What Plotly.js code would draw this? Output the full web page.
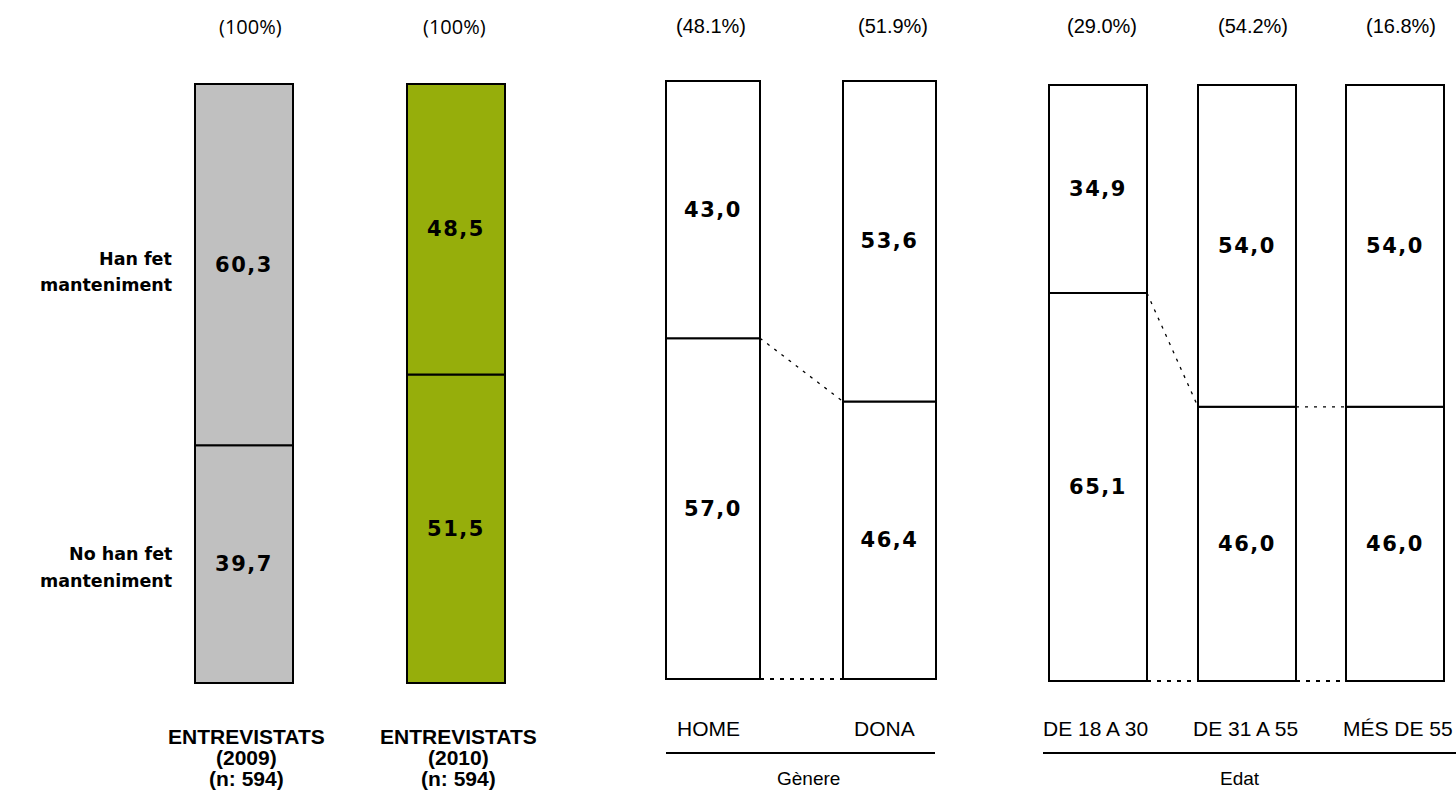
<!DOCTYPE html>
<html>
<head>
<meta charset="utf-8">
<script src="https://cdn.plot.ly/plotly-3.0.1.min.js"></script>
<style>
html,body{margin:0;padding:0;background:#fff;}
#chart{width:1456px;height:798px;}
#chart text.bartext{letter-spacing:1.5px;}
</style>
</head>
<body>
<div id="chart"></div>
<script>
// ---- data ----
const categories = ['ENTREVISTATS<br>(2009)<br>(n: 594)', 'ENTREVISTATS<br>(2010)<br>(n: 594)', 'HOME', 'DONA', 'DE 18 A 30', 'DE 31 A 55', 'MÉS DE 55'];
const shares = ['(100%)', '(100%)', '(48.1%)', '(51.9%)', '(29.0%)', '(54.2%)', '(16.8%)'];
const hanFet = [60.3, 48.5, 43.0, 53.6, 34.9, 54.0, 54.0];
const noHanFet = [39.7, 51.5, 57.0, 46.4, 65.1, 46.0, 46.0];
const seriesNames = ['Han fet<br>manteniment', 'No han fet<br>manteniment'];
const groupNames = ['Gènere', 'Edat'];
const groupMembers = [[2, 3], [4, 5, 6]];

// ---- layout constants ----
const W = 1456, H = 798;
const centers = [244, 456, 713, 889.5, 1098, 1247, 1395];
const widths = [98, 98, 94, 93, 98, 98, 98];
const shareX = [250, 454, 711, 893, 1102, 1253, 1401];
const catX = [246, 458, 708, 884, 1095, 1245, 1398];
const axisOf = ['y', 'y', 'y2', 'y2', 'y3', 'y3', 'y3'];
const fills = ['#C0C0C0', '#96AE0B', '#FFFFFF', '#FFFFFF', '#FFFFFF', '#FFFFFF', '#FFFFFF'];
const axisPx = {y: [84, 683], y2: [81, 679], y3: [85, 681]};
const PAD = 0.6;
function domainFor(px) {
  const u = (px[1] - px[0]) / 100;
  return [(H - (px[1] + PAD * u)) / H, (H - (px[0] - PAD * u)) / H];
}
const py = p => (H - p) / H;

const traces = [];
['y', 'y2', 'y3'].forEach(ax => {
  const idx = categories.map((c, i) => i).filter(i => axisOf[i] === ax);
  const common = {
    type: 'bar', xaxis: 'x', yaxis: ax,
    x: idx.map(i => centers[i]), width: idx.map(i => widths[i]),
    textposition: 'inside', insidetextanchor: 'middle', textangle: 0,
    texttemplate: '%{y:.1f}', constraintext: 'none',
    textfont: {family: 'DejaVu Sans', size: 21, weight: 'bold', color: '#000'},
    hoverinfo: 'skip', showlegend: false,
    marker: {color: idx.map(i => fills[i]), line: {color: '#000', width: 2}}
  };
  traces.push(Object.assign({}, common, {name: seriesNames[1], y: idx.map(i => noHanFet[i]), base: idx.map(() => 0)}));
  traces.push(Object.assign({}, common, {name: seriesNames[0], y: idx.map(i => hanFet[i]), base: idx.map(i => noHanFet[i])}));
});

// connector lines between bars inside each group
groupMembers.forEach(g => {
  for (let k = 0; k < g.length - 1; k++) {
    const a = g[k], b = g[k + 1];
    const xr = centers[a] + widths[a] / 2, xl = centers[b] - widths[b] / 2;
    traces.push({type: 'scatter', mode: 'lines', xaxis: 'x', yaxis: axisOf[a],
      x: [xr, xl], y: [noHanFet[a], noHanFet[b]], hoverinfo: 'skip', showlegend: false,
      line: {color: '#000', width: 1.3, dash: '3px,6px'}});
    traces.push({type: 'scatter', mode: 'lines', xaxis: 'x', yaxis: axisOf[a],
      x: [xr, xl], y: [0, 0], hoverinfo: 'skip', showlegend: false,
      line: {color: '#000', width: 2, dash: '4px,6px'}});
  }
});

const annotations = [];
// share labels on top
shares.forEach((s, i) => {
  annotations.push({xref: 'x', yref: 'paper', x: shareX[i], y: py(26), text: s, showarrow: false,
    xanchor: 'center', yanchor: 'middle',
    font: {family: i < 2 ? 'Open Sans' : 'Liberation Sans', size: i < 2 ? 20 : 20, color: '#000'}});
});
// category labels
categories.forEach((c, i) => {
  const lines = c.split('<br>');
  if (lines.length > 1) {
    const ys = [736, 757, 778];
    lines.forEach((ln, j) => annotations.push({xref: 'x', yref: 'paper', x: catX[i], y: py(ys[j]), text: '<b>' + ln + '</b>',
      showarrow: false, xanchor: 'center', yanchor: 'middle',
      font: {family: 'Liberation Sans', size: 21, color: '#000'}}));
  } else {
    annotations.push({xref: 'x', yref: 'paper', x: catX[i], y: py(728), text: c, showarrow: false,
      xanchor: 'center', yanchor: 'middle', font: {family: 'Liberation Sans', size: 21, color: '#000'}});
  }
});
// series labels at the left
const seriesY = [[259, 285], [554, 581]];
seriesNames.forEach((s, k) => {
  s.split('<br>').forEach((ln, j) => annotations.push({xref: 'paper', yref: 'paper', x: 174 / W, y: py(seriesY[k][j]), text: ln,
    showarrow: false, xanchor: 'right', yanchor: 'middle',
    font: {family: 'DejaVu Sans', size: 17.5, weight: 'bold', color: '#000'}}));
});
// group names + underline
const groupSpan = [[666, 935], [1043, 1456]];
const groupMid = [808, 1240];
const shapes = [];
groupNames.forEach((g, k) => {
  const sp = groupSpan[k];
  shapes.push({type: 'line', xref: 'x', yref: 'paper', x0: sp[0], x1: sp[1], y0: py(753), y1: py(753), line: {color: '#000', width: 2}});
  annotations.push({xref: 'x', yref: 'paper', x: groupMid[k], y: py(778), text: g, showarrow: false,
    xanchor: 'center', yanchor: 'middle', font: {family: 'Liberation Sans', size: 19, color: '#000'}});
});

const yBase = {range: [-PAD, 100 + PAD], visible: false, fixedrange: true, anchor: 'x'};
const layout = {
  width: W, height: H,
  margin: {l: 0, r: 0, t: 0, b: 0},
  paper_bgcolor: '#fff', plot_bgcolor: 'rgba(0,0,0,0)',
  barmode: 'overlay', separators: ', ',
  showlegend: false,
  xaxis: {range: [0, W], visible: false, fixedrange: true, domain: [0, 1], anchor: 'y'},
  yaxis: Object.assign({}, yBase, {domain: domainFor(axisPx.y)}),
  yaxis2: Object.assign({}, yBase, {domain: domainFor(axisPx.y2)}),
  yaxis3: Object.assign({}, yBase, {domain: domainFor(axisPx.y3)}),
  annotations: annotations,
  shapes: shapes
};
Plotly.newPlot('chart', traces, layout, {displayModeBar: false, staticPlot: true});
</script>
</body>
</html>
